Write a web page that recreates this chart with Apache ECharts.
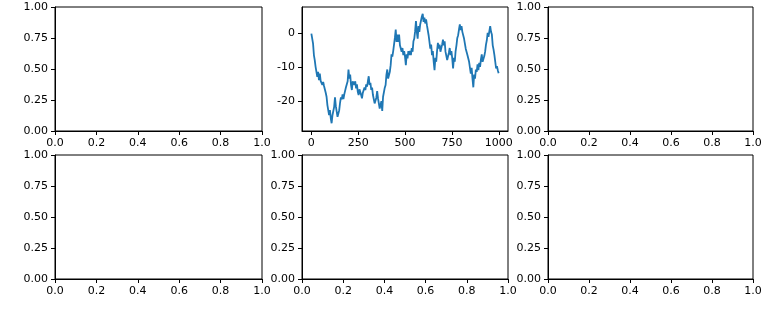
<!DOCTYPE html>
<html>
<head>
<meta charset="utf-8">
<script src="https://cdn.jsdelivr.net/npm/echarts@6/dist/echarts.min.js"></script>
<style>
html,body{margin:0;padding:0;background:#fff;}
#main{width:784px;height:315px;}
</style>
</head>
<body>
<div id="main"></div>
<script>
const walk = [
0.0,-0.5,-3.0,-6.4,-7.9,-9.9,-9.9,-12.9,-11.4,-13.9,-11.9,-14.1,-13.9,-15.3,-14.4,-15.6,
-15.8,-17.6,-18.8,-21.3,-21.6,-24.3,-22.8,-25.2,-26.7,-24.3,-23.8,-21.8,-19.0,-21.6,-22.0,-24.8,
-25.2,-22.8,-20.6,-19.0,-19.6,-18.1,-19.5,-18.1,-18.3,-16.0,-16.3,-14.2,-10.7,-13.4,-12.2,-15.3,
-16.8,-14.2,-13.7,-15.3,-14.2,-16.3,-15.1,-17.3,-18.3,-16.6,-16.1,-18.3,-19.3,-17.6,-17.8,-16.1,
-16.8,-15.1,-15.8,-14.2,-12.7,-15.3,-14.7,-16.8,-16.1,-18.3,-18.1,-20.8,-21.3,-19.1,-17.1,-19.3,
-19.1,-22.3,-21.8,-20.1,-23.0,-18.8,-18.3,-16.1,-15.3,-12.2,-10.7,-13.4,-13.4,-11.4,-9.4,-6.2,
-6.9,-5.2,-5.4,-1.3,1.2,-2.5,-0.3,-2.5,-0.3,-3.5,-3.3,-5.4,-4.3,-6.4,-5.2,-6.9,
-9.4,-6.2,-7.4,-5.2,-6.4,-5.2,-6.4,-4.3,-5.4,-2.3,-1.5,0.7,3.7,0.5,-1.5,2.2,
0.5,2.7,2.5,5.1,5.9,3.5,4.7,3.0,4.2,2.5,2.7,-0.5,-0.3,-4.5,-3.3,-6.4,
-5.2,-8.4,-10.9,-7.2,-8.4,-5.2,-2.8,-4.5,-3.3,-5.4,-5.9,-3.3,-1.8,-3.5,-2.3,-5.4,
-5.2,-7.9,-7.9,-5.7,-4.3,-6.4,-5.2,-7.4,-10.4,-7.2,-8.4,-5.2,-3.5,-1.3,-0.5,1.2,
2.7,1.0,2.2,0.5,0.7,-1.5,-1.3,-4.5,-4.3,-6.4,-6.2,-8.4,-8.7,-11.9,-10.2,-13.4,
-16.0,-12.2,-13.4,-10.7,-11.4,-9.2,-10.9,-8.7,-9.9,-7.7,-6.2,-8.4,-8.4,-6.7,-5.4,-3.3,
-2.0,0.2,-1.0,0.7,2.2,0.5,-0.3,-3.5,-4.8,-6.4,-6.7,-10.4,-9.7,-10.9,-11.8
];
const walkStep = 4.5;
const walkXTicks = [0, 250, 500, 750, 1000];
const walkYTicks = [-20, -10, 0];
const walkXRange = [-50, 1049];
const walkYRange = [-29.0, 7.9];
const emptyXTicks = [0.0, 0.2, 0.4, 0.6, 0.8, 1.0];
const emptyYTicks = [0.00, 0.25, 0.50, 0.75, 1.00];

const colLeft = [55, 302, 548];
const colWidth = [207, 206, 205];
const rowTop = [7, 155];
const rowHeight = 124;

const txt = {color:'#000', fontFamily:'DejaVu Sans', fontSize:11};
const grids = [], xAxes = [], yAxes = [], series = [];
let g = 0;
for (let r = 0; r < 2; r++) {
  for (let c = 0; c < 3; c++) {
    const isWalk = (r === 0 && c === 1);
    grids.push({left: colLeft[c], top: rowTop[r], width: colWidth[c], height: rowHeight,
      show: true, borderColor: '#000', borderWidth: 1, backgroundColor: '#fff'});
    const xt = isWalk ? walkXTicks : emptyXTicks;
    const yt = isWalk ? walkYTicks : emptyYTicks;
    xAxes.push({type:'value', gridIndex:g,
      min: isWalk ? walkXRange[0] : 0, max: isWalk ? walkXRange[1] : 1,
      axisLine:{show:true, onZero:false, lineStyle:{color:'#000', width:1}},
      axisTick:{show:true, length:4, lineStyle:{color:'#000', width:1}, customValues: xt},
      axisLabel:{show:true, margin:7, customValues: xt, ...txt,
        formatter: v => isWalk ? String(v) : v.toFixed(1)},
      splitLine:{show:false}});
    yAxes.push({type:'value', gridIndex:g,
      min: isWalk ? walkYRange[0] : 0, max: isWalk ? walkYRange[1] : 1,
      axisLine:{show:true, onZero:false, lineStyle:{color:'#000', width:1}},
      axisTick:{show:true, length:4, lineStyle:{color:'#000', width:1}, customValues: yt},
      axisLabel:{show:true, margin:7, customValues: yt, ...txt,
        formatter: v => isWalk ? String(v) : v.toFixed(2)},
      splitLine:{show:false}});
    if (isWalk) {
      series.push({type:'line', xAxisIndex:g, yAxisIndex:g, showSymbol:false,
        animation:false, lineStyle:{color:'#1f77b4', width:1.8}, itemStyle:{color:'#1f77b4'},
        data: walk.map((v, i) => [i * walkStep, v])});
    }
    g++;
  }
}
const chart = echarts.init(document.getElementById('main'), null, {renderer:'canvas'});
chart.setOption({animation:false, backgroundColor:'#fff', grid:grids, xAxis:xAxes, yAxis:yAxes, series});
</script>
</body>
</html>
